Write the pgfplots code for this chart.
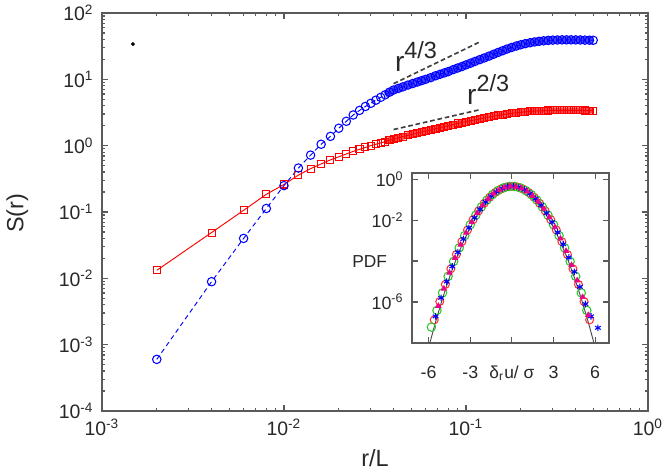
\documentclass[border=0pt]{standalone}
\usepackage{fontspec}
\setmainfont{Liberation Sans}
\usepackage{pgfplots}
\pgfplotsset{compat=1.18}
\usepackage{pgfplotstable}

\pgfplotstableread{
r s2 s4
0.002 0.0132 6.0e-4
0.004 0.049 8.9e-3
0.006 0.106 0.040
0.008 0.185 0.113
0.010 0.26 0.25
0.012 0.36 0.46
0.014 0.45 0.72
0.016 0.53 1.05
0.018 0.61 1.38
0.020 0.68 1.83
0.022 0.75 2.33
0.024 0.82 2.9
0.026 0.88 3.4
0.028 0.94 3.9
0.030 1.00 4.35
0.032 1.05 4.85
0.034 1.10 5.35
0.036 1.15 5.85
0.038 1.21 6.4
0.040 1.26 6.9
0.0425 1.32 7.3
0.045 1.37 7.7
0.048 1.43 8.2
0.051 1.49 8.65
0.054 1.55 9.1
0.057 1.60 9.55
0.060 1.66 10.0
0.064 1.73 10.6
0.068 1.80 11.3
0.072 1.87 11.9
0.076 1.94 12.5
0.080 2.00 13.1
0.085 2.08 14.0
0.090 2.16 14.8
0.095 2.23 15.6
0.100 2.30 16.5
0.106 2.38 17.5
0.112 2.45 18.6
0.119 2.53 19.8
0.126 2.62 21.0
0.134 2.70 22.4
0.142 2.78 23.9
0.150 2.86 25.4
0.159 2.94 27.0
0.168 3.00 28.6
0.178 3.07 30.2
0.189 3.13 31.8
0.200 3.19 33.2
0.212 3.24 34.5
0.225 3.28 35.6
0.238 3.32 36.6
0.252 3.35 37.4
0.267 3.37 38.1
0.283 3.39 38.6
0.300 3.40 39.0
0.318 3.41 39.2
0.337 3.41 39.4
0.357 3.41 39.4
0.378 3.41 39.4
0.401 3.40 39.3
0.425 3.40 39.2
0.450 3.39 39.0
0.477 3.38 38.9
0.500 3.38 38.8
}\structdata

\pgfplotstableread{
x y
-5.6 1.34e-7
-5.2 1.06e-6
-4.8 7.2e-6
-4.4 4.2e-5
-4.0 2.1e-4
-3.6 9.0e-4
-3.2 3.3e-3
-2.8 1.05e-2
-2.4 2.83e-2
-2.0 6.6e-2
-1.6 0.131
-1.2 0.224
-0.8 0.329
-0.4 0.414
0 0.447
0.4 0.414
0.8 0.329
1.2 0.224
1.6 0.131
2.0 6.6e-2
2.4 2.83e-2
2.8 1.05e-2
3.2 3.3e-3
3.6 9.0e-4
4.0 2.1e-4
4.4 4.2e-5
4.8 7.2e-6
5.2 1.06e-6
5.6 1.34e-7
}\pdfred

\pgfplotstableread{
x y
-5.8 6.0e-8
-5.4 3.9e-7
-5.0 2.8e-6
-4.6 1.8e-5
-4.2 9.6e-5
-3.8 4.4e-4
-3.4 1.76e-3
-3.0 6.0e-3
-2.6 1.75e-2
-2.2 4.4e-2
-1.8 9.5e-2
-1.4 0.175
-1.0 0.277
-0.6 0.376
-0.2 0.438
0.2 0.438
0.6 0.376
1.0 0.277
1.4 0.175
1.8 9.5e-2
2.2 4.4e-2
2.6 1.75e-2
3.0 6.0e-3
3.4 1.76e-3
3.8 4.4e-4
4.2 9.6e-5
4.6 1.8e-5
5.0 2.8e-6
5.4 3.9e-7
}\pdfgreen

\pgfplotstableread{
x y
-5.5 2.0e-7
-5.1 1.6e-6
-4.7 1.0e-5
-4.3 5.5e-5
-3.9 2.7e-4
-3.5 1.2e-3
-3.1 4.2e-3
-2.7 1.3e-2
-2.3 3.4e-2
-1.9 7.8e-2
-1.5 0.15
-1.1 0.245
-0.7 0.35
-0.3 0.425
0.1 0.445
0.5 0.398
0.9 0.305
1.3 0.2
1.7 0.112
2.1 5.4e-2
2.5 2.2e-2
2.9 8.0e-3
3.3 2.5e-3
3.7 6.6e-4
4.1 1.5e-4
4.5 3.0e-5
4.9 5.5e-6
5.3 8.0e-7
5.7 2.0e-7
6.2 5.5e-8
}\pdfblue

\pgfplotstableread{
x y
-5.3 6.4e-7
-4.9 4.5e-6
-4.5 2.7e-5
-4.1 1.43e-4
-3.7 6.3e-4
-3.3 2.4e-3
-2.9 8.0e-3
-2.5 2.24e-2
-2.1 5.4e-2
-1.7 0.112
-1.3 0.199
-0.9 0.303
-0.5 0.396
-0.1 0.445
0.3 0.428
0.7 0.353
1.1 0.25
1.5 0.152
1.9 7.9e-2
2.3 3.55e-2
2.7 1.36e-2
3.1 4.5e-3
3.5 1.26e-3
3.9 3.1e-4
4.3 6.4e-5
4.7 1.14e-5
5.1 1.74e-6
5.5 2.3e-7
}\pdfmag

\pgfplotstableread{
x y
-6.0 6.08e-9
-5.5 1.08e-7
-5.0 1.49e-6
-4.5 1.60e-5
-4.0 1.34e-4
-3.5 8.73e-4
-3.0 4.43e-3
-2.5 1.75e-2
-2.0 5.40e-2
-1.5 0.1295
-1.0 0.242
-0.5 0.352
0.0 0.399
0.5 0.352
1.0 0.242
1.5 0.1295
2.0 5.40e-2
2.5 1.75e-2
3.0 4.43e-3
3.5 8.73e-4
4.0 1.34e-4
4.5 1.60e-5
5.0 1.49e-6
5.5 1.08e-7
6.0 6.08e-9
}\gauss

\definecolor{axgray}{RGB}{90,90,90}
\definecolor{txtgray}{RGB}{40,40,40}
\definecolor{pgreen}{RGB}{40,200,40}

\begin{document}
\begin{tikzpicture}
\useasboundingbox (-1.53,-0.975) rectangle (8.55,6.165);
\begin{axis}[
  at={(0cm,0cm)}, anchor=south west,
  scale only axis, width=8.19cm, height=5.97cm,
  xmode=log, ymode=log,
  xmin=1e-3, xmax=1, ymin=1e-4, ymax=1e2,
  xtick={1e-3,1e-2,1e-1,1},
  xticklabels={10\textsuperscript{-3},10\textsuperscript{-2},10\textsuperscript{-1},10\textsuperscript{0}},
  ytick={1e-4,1e-3,1e-2,1e-1,1,1e1,1e2},
  yticklabels={10\textsuperscript{-4},10\textsuperscript{-3},10\textsuperscript{-2},10\textsuperscript{-1},10\textsuperscript{0},10\textsuperscript{1},10\textsuperscript{2}},
  tick align=inside,
  axis line style={axgray, line width=0.6pt},
  every tick/.style={axgray, line width=0.5pt},
  major tick length=0.09cm, minor tick length=0.05cm,
  tick label style={font=\fontsize{8.3}{10}\selectfont, text=txtgray},
  xlabel={r/L}, ylabel={S(r)},
  every axis x label/.style={at={(axis description cs:0.5,-0.118)}, anchor=center, font=\fontsize{10}{12}\selectfont, text=txtgray},
  every axis y label/.style={at={(axis description cs:-0.155,0.497)}, rotate=90, anchor=center, font=\fontsize{10}{12}\selectfont, text=txtgray},
  clip=false,
]
% dense part of each band, drawn as a broad stroke under the markers
\addplot[red!70, line width=2.6pt, skip coords between index={0}{17}] table[x=r, y=s2] {\structdata};
\addplot[blue!70, line width=3.0pt, skip coords between index={0}{17}] table[x=r, y=s4] {\structdata};
\addplot[red, line width=0.4pt, mark=square, mark size=1.5pt, mark options={solid, line width=0.45pt}] table[x=r, y=s2] {\structdata};
\addplot[blue, line width=0.4pt, dash pattern=on 2pt off 1.5pt, mark=o, mark size=1.8pt, mark options={solid, line width=0.45pt}] table[x=r, y=s4] {\structdata};
\addplot[black!75, line width=0.7pt, dash pattern=on 2pt off 1.2pt] coordinates {(0.04,8.6) (0.12,37)};
\addplot[black!75, line width=0.7pt, dash pattern=on 2pt off 1.2pt] coordinates {(0.04,1.75) (0.12,3.5)};
\addplot[only marks, mark=*, mark size=0.6pt, black] coordinates {(0.00148,34)};
\node[anchor=base west, inner sep=0pt, text=txtgray, font=\fontsize{12}{14}\selectfont] at (axis cs:0.0405,13.3) {r\raisebox{0.45em}{\fontsize{10}{10}\selectfont 4/3}};
\node[anchor=base west, inner sep=0pt, text=txtgray, font=\fontsize{12}{14}\selectfont] at (axis cs:0.101,4.2) {r\raisebox{0.45em}{\fontsize{10}{10}\selectfont 2/3}};
\end{axis}

\begin{axis}[
  at={(4.65cm,1.02cm)}, anchor=south west,
  scale only axis, width=2.955cm, height=2.55cm,
  ymode=log,
  xmin=-7.2, xmax=7.0, ymin=1e-8, ymax=2,
  xtick={-6,-3,0,3,6},
  xticklabels={-6,-3,,3,6},
  ytick={1e-6,1e-4,1e-2,1},
  yticklabels={10\textsuperscript{-6},,10\textsuperscript{-2},10\textsuperscript{0}},
  xminorticks=false, yminorticks=false,
  tick align=inside,
  axis background/.style={fill=white},
  axis line style={axgray, line width=0.6pt},
  every tick/.style={axgray, line width=0.5pt},
  major tick length=0.09cm,
  tick label style={font=\fontsize{7.6}{9}\selectfont, text=txtgray},
  xticklabel style={anchor=base, yshift=-0.53cm},
  xlabel={δ\textsubscript{r}u/ σ}, ylabel={PDF},
  every axis x label/.style={at={(axis description cs:0.507,0)}, anchor=base, yshift=-0.53cm, font=\fontsize{7.4}{9}\selectfont, text=txtgray},
  every axis y label/.style={at={(axis description cs:0,0.482)}, anchor=east, xshift=-0.25cm, font=\fontsize{7.4}{9}\selectfont, text=txtgray},
  clip=true,
]
\addplot[black!70, line width=0.4pt] table[x=x, y=y] {\gauss};
\addplot[only marks, mark=o, mark size=1.7pt, red!80, mark options={line width=0.45pt, fill=red!25}] table[x=x, y=y] {\pdfred};
\addplot[only marks, mark=o, mark size=1.8pt, pgreen, mark options={line width=0.45pt}] table[x=x, y=y] {\pdfgreen};
\addplot[only marks, mark=asterisk, mark size=1.4pt, blue, mark options={line width=0.45pt}] table[x=x, y=y] {\pdfblue};
\addplot[only marks, mark=triangle*, mark size=1.3pt, magenta, mark options={line width=0.3pt}] table[x=x, y=y] {\pdfmag};
\end{axis}
\end{tikzpicture}
\end{document}
